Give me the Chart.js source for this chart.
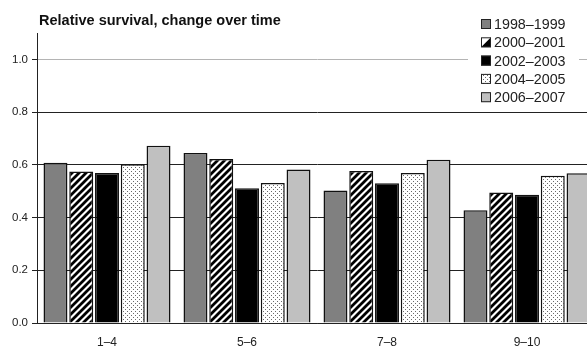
<!DOCTYPE html>
<html>
<head>
<meta charset="utf-8">
<script src="https://cdn.jsdelivr.net/npm/chart.js@4"></script>
<style>
html, body { margin: 0; padding: 0; background: #fff; overflow: hidden; }
#wrap { width: 600px; height: 347px; }
</style>
</head>
<body>
<div id="wrap"><canvas id="chart" width="600" height="347"></canvas></div>
<script>
// relative survival by age group, one series per period
const chartTitle = "Relative survival, change over time";
const categories = ["1–4", "5–6", "7–8", "9–10"];
const periods = ["1998–1999", "2000–2001", "2002–2003", "2004–2005", "2006–2007"];
const p1998 = [0.608, 0.645, 0.503, 0.428];
const p2000 = [0.575, 0.622, 0.577, 0.495];
const p2002 = [0.569, 0.511, 0.530, 0.486];
const p2004 = [0.602, 0.531, 0.569, 0.559];
const p2006 = [0.672, 0.582, 0.619, 0.568];
const yTicks = [0, 0.2, 0.4, 0.6, 0.8, 1.0];

const FONT = "'Liberation Sans', Arial, sans-serif";
Chart.defaults.font.family = FONT;

function stripePattern() {
    const c = document.createElement("canvas");
    c.width = 7; c.height = 7;
    const g = c.getContext("2d");
    g.fillStyle = "#fff";
    g.fillRect(0, 0, 7, 7);
    g.strokeStyle = "#000";
    g.lineWidth = 2.8;
    g.beginPath();
    g.moveTo(-1, 8); g.lineTo(8, -1);
    g.moveTo(-2, 2); g.lineTo(2, -2);
    g.moveTo(5, 9); g.lineTo(9, 5);
    g.stroke();
    return g.createPattern(c, "repeat");
}

function dotPattern() {
    const c = document.createElement("canvas");
    c.width = 4; c.height = 4;
    const g = c.getContext("2d");
    g.fillStyle = "#fff";
    g.fillRect(0, 0, 4, 4);
    g.fillStyle = "#6a6a6a";
    g.fillRect(1, 1, 1, 1);
    g.fillRect(3, 3, 1, 1);
    return g.createPattern(c, "repeat");
}

const fills = ["#808080", stripePattern(), "#000000", dotPattern(), "#c0c0c0"];
const seriesData = [p1998, p2000, p2002, p2004, p2006];

// title and boxed legend drawn on top of the plot
const overlay = {
    id: "overlay",
    afterDraw(chart) {
        const ctx = chart.ctx;
        ctx.save();
        ctx.fillStyle = "#111";
        ctx.font = "bold 14.5px " + FONT;
        ctx.textBaseline = "middle";
        ctx.textAlign = "left";
        ctx.fillText(chartTitle, 39, 21);

        ctx.fillStyle = "#fff";
        ctx.fillRect(468, 13, 111, 93);
        ctx.font = "14.3px " + FONT;
        periods.forEach((label, i) => {
            const y = 24 + i * 18.3;
            const bx = 481, by = y - 5, s = 10;
            if (i === 1) {
                ctx.fillStyle = "#fff";
                ctx.fillRect(bx, by, s, s);
                ctx.fillStyle = "#000";
                ctx.beginPath();
                ctx.moveTo(bx, by + s); ctx.lineTo(bx + s, by + s); ctx.lineTo(bx + s, by);
                ctx.closePath();
                ctx.fill();
            } else {
                ctx.fillStyle = fills[i];
                ctx.fillRect(bx, by, s, s);
            }
            ctx.strokeStyle = "#222";
            ctx.lineWidth = 1;
            ctx.strokeRect(bx + 0.5, by + 0.5, s - 1, s - 1);
            ctx.fillStyle = "#222";
            ctx.fillText(label, 494, y + 1);
        });
        ctx.restore();
    }
};

new Chart(document.getElementById("chart"), {
    type: "bar",
    data: {
        labels: categories,
        datasets: periods.map((p, i) => ({
            label: p,
            data: seriesData[i],
            backgroundColor: fills[i],
            borderColor: "#111",
            borderWidth: 1.5,
            categoryPercentage: 0.92,
            barPercentage: 0.93
        }))
    },
    options: {
        responsive: false,
        animation: false,
        layout: { padding: { top: 33, right: 3, left: 0, bottom: 0 } },
        plugins: {
            legend: { display: false },
            title: { display: false },
            tooltip: { enabled: false }
        },
        scales: {
            x: {
                grid: { display: false },
                border: { color: "#222", width: 1 },
                ticks: { color: "#222", font: { size: 12 }, padding: 4 },
                afterFit: s => { s.height = 24; }
            },
            y: {
                min: 0,
                max: 1.1,
                ticks: {
                    stepSize: 0.2,
                    color: "#222",
                    font: { size: 11.5 },
                    padding: 4,
                    callback: v => Number(v).toFixed(1)
                },
                grid: {
                    color: c => (c.tick && Math.abs(c.tick.value - 1) < 1e-6) ? "#b4b4b4" : "#222",
                    tickColor: "#222",
                    tickLength: 5
                },
                border: { color: "#222", width: 1 },
                afterBuildTicks: s => {
                    s.ticks = yTicks.map(v => ({ value: v }));
                },
                afterFit: s => { s.width = 37; }
            }
        }
    },
    plugins: [overlay]
});
</script>
</body>
</html>
